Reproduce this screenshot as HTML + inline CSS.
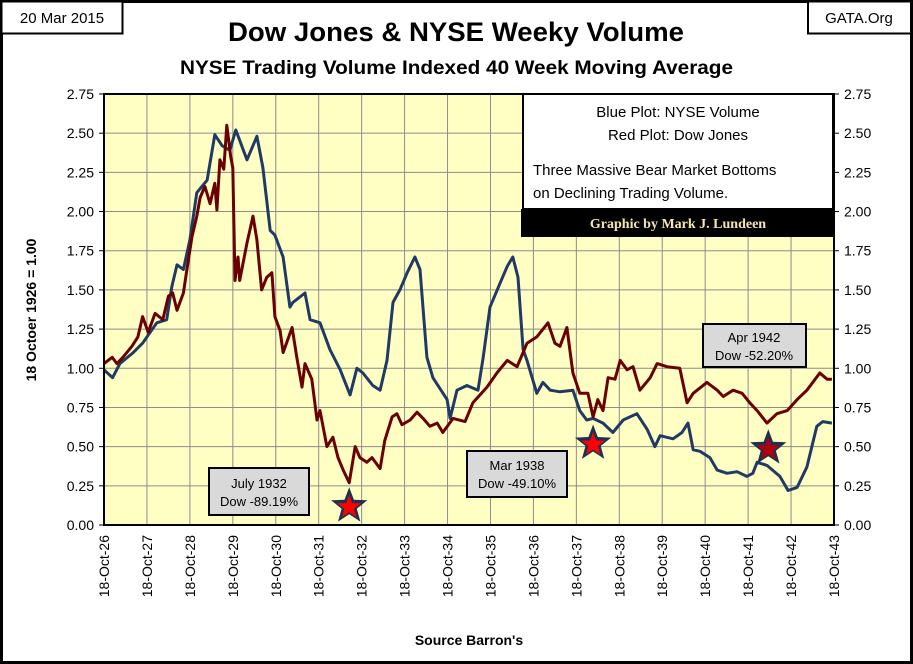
<!DOCTYPE html>
<html><head><meta charset="utf-8"><style>
html,body{margin:0;padding:0;background:#fff;}
svg{display:block;font-family:"Liberation Sans",sans-serif;}
</style></head><body>
<svg id="chart" width="913" height="664" viewBox="0 0 913 664" xmlns="http://www.w3.org/2000/svg">
<rect x="1.5" y="1.5" width="910" height="661" fill="#fff" stroke="#000" stroke-width="3"/>
<rect x="1.5" y="1.5" width="121" height="32" fill="#fff" stroke="#000" stroke-width="2"/>
<text x="62" y="23" font-size="15" text-anchor="middle">20 Mar 2015</text>
<rect x="808" y="1.5" width="103" height="32" fill="#fff" stroke="#000" stroke-width="2"/>
<text x="859" y="23" font-size="15" text-anchor="middle">GATA.Org</text>
<text x="228" y="41" font-size="27" font-weight="bold" textLength="456" lengthAdjust="spacingAndGlyphs">Dow Jones &amp; NYSE Weeky Volume</text>
<text x="180" y="74" font-size="19" font-weight="bold" textLength="553" lengthAdjust="spacingAndGlyphs">NYSE Trading Volume Indexed 40 Week Moving Average</text>
<rect x="104" y="94" width="730" height="431" fill="#ffffc4"/>
<g id="grid"></g>
<g id="series"></g>
<rect x="104" y="94" width="730" height="431" fill="none" stroke="#000" stroke-width="2"/>
<g id="axes"></g>
<text transform="translate(36,310) rotate(-90)" font-size="14" font-weight="bold" text-anchor="middle">18 Octoer 1926 = 1.00</text>
<text x="469" y="645" font-size="14" font-weight="bold" text-anchor="middle">Source Barron's</text>
<g>
<rect x="523" y="94" width="310" height="115" fill="#fff" stroke="#000" stroke-width="2"/>
<text x="678" y="117" font-size="15" text-anchor="middle">Blue Plot: NYSE Volume</text>
<text x="678" y="140" font-size="15" text-anchor="middle">Red Plot: Dow Jones</text>
<text x="533" y="175" font-size="15">Three Massive Bear Market Bottoms</text>
<text x="533" y="198" font-size="15">on Declining Trading Volume.</text>
</g>
<rect x="521" y="209" width="313" height="28" fill="#000"/>
<text x="678" y="228" font-size="14" font-weight="bold" fill="#f5e6b0" text-anchor="middle" font-family="Liberation Serif,serif">Graphic by Mark J. Lundeen</text>
<g>
<rect x="209" y="468" width="100" height="47" fill="#d9d9d9" stroke="#000" stroke-width="2"/>
<text x="259" y="488" font-size="13" text-anchor="middle">July 1932</text>
<text x="259" y="506" font-size="13" text-anchor="middle">Dow -89.19%</text>
</g>
<g>
<rect x="467" y="451" width="100" height="46" fill="#d9d9d9" stroke="#000" stroke-width="2"/>
<text x="517" y="470" font-size="13" text-anchor="middle">Mar 1938</text>
<text x="517" y="488" font-size="13" text-anchor="middle">Dow -49.10%</text>
</g>
<g>
<rect x="703" y="324" width="103" height="43" fill="#d9d9d9" stroke="#000" stroke-width="2"/>
<text x="754" y="342" font-size="13" text-anchor="middle">Apr 1942</text>
<text x="754" y="360" font-size="13" text-anchor="middle">Dow -52.20%</text>
</g>
<g id="stars"></g>
</svg>
<script>
const yTicks=[0,0.25,0.5,0.75,1,1.25,1.5,1.75,2,2.25,2.5,2.75];
const xTickLabels=["18-Oct-26","18-Oct-27","18-Oct-28","18-Oct-29","18-Oct-30","18-Oct-31","18-Oct-32","18-Oct-33","18-Oct-34","18-Oct-35","18-Oct-36","18-Oct-37","18-Oct-38","18-Oct-39","18-Oct-40","18-Oct-41","18-Oct-42","18-Oct-43"];
const volTimes=[0,0.2,0.37,0.68,0.9,1.23,1.46,1.58,1.7,1.85,2.0,2.16,2.4,2.58,2.75,2.93,3.07,3.33,3.56,3.7,3.87,3.98,4.17,4.33,4.4,4.68,4.8,5.03,5.26,5.5,5.73,5.89,6.03,6.26,6.43,6.59,6.73,6.89,7.06,7.24,7.36,7.52,7.66,7.99,8.06,8.22,8.45,8.71,8.83,8.99,9.22,9.39,9.52,9.64,9.76,9.85,10.08,10.22,10.39,10.62,10.92,11.08,11.24,11.39,11.62,11.85,12.09,12.41,12.65,12.83,12.95,13.25,13.46,13.6,13.72,13.88,14.11,14.28,14.51,14.74,14.97,15.11,15.21,15.44,15.74,15.93,16.14,16.37,16.6,16.74,16.95];
const volValues=[0.99,0.94,1.03,1.10,1.16,1.29,1.31,1.52,1.66,1.63,1.82,2.12,2.20,2.49,2.42,2.39,2.52,2.33,2.48,2.28,1.88,1.85,1.71,1.39,1.42,1.48,1.31,1.29,1.12,0.99,0.83,1.00,0.97,0.89,0.86,1.05,1.42,1.50,1.61,1.71,1.63,1.07,0.94,0.80,0.68,0.86,0.89,0.86,1.07,1.39,1.54,1.65,1.71,1.58,1.12,1.05,0.84,0.91,0.86,0.85,0.86,0.73,0.67,0.68,0.65,0.59,0.67,0.71,0.61,0.50,0.57,0.55,0.59,0.65,0.48,0.47,0.43,0.35,0.33,0.34,0.31,0.33,0.40,0.38,0.31,0.22,0.24,0.37,0.63,0.66,0.65];
const dowTimes=[0,0.19,0.3,0.44,0.65,0.79,0.9,1.03,1.19,1.37,1.5,1.6,1.7,1.85,1.93,2.05,2.16,2.24,2.35,2.47,2.58,2.63,2.7,2.79,2.86,2.95,3.0,3.05,3.12,3.16,3.33,3.47,3.56,3.67,3.79,3.91,3.98,4.1,4.17,4.38,4.49,4.61,4.68,4.84,4.96,5.03,5.19,5.33,5.45,5.57,5.71,5.85,5.96,6.12,6.24,6.43,6.54,6.71,6.82,6.94,7.13,7.29,7.43,7.59,7.76,7.89,8.13,8.41,8.59,8.92,9.15,9.39,9.62,9.85,10.08,10.34,10.5,10.62,10.78,10.92,11.08,11.27,11.39,11.5,11.62,11.74,11.9,12.02,12.18,12.32,12.48,12.72,12.88,13.11,13.41,13.58,13.72,14.04,14.28,14.42,14.65,14.86,15.04,15.21,15.44,15.67,15.91,16.14,16.37,16.67,16.84,16.95];
const dowValues=[1.03,1.07,1.03,1.07,1.14,1.20,1.33,1.23,1.35,1.31,1.46,1.48,1.37,1.48,1.63,1.84,1.97,2.09,2.16,2.05,2.18,2.01,2.33,2.27,2.55,2.35,2.28,1.56,1.71,1.56,1.80,1.97,1.82,1.50,1.58,1.61,1.33,1.24,1.10,1.26,1.07,0.88,1.03,0.93,0.67,0.73,0.50,0.56,0.43,0.35,0.27,0.50,0.43,0.40,0.43,0.36,0.54,0.69,0.71,0.64,0.67,0.72,0.68,0.63,0.65,0.59,0.68,0.66,0.78,0.88,0.97,1.05,1.01,1.16,1.20,1.29,1.16,1.14,1.26,0.97,0.84,0.84,0.69,0.80,0.73,0.94,0.93,1.05,0.99,1.01,0.86,0.94,1.03,1.01,1.00,0.78,0.84,0.91,0.86,0.82,0.86,0.84,0.78,0.73,0.65,0.71,0.73,0.80,0.86,0.97,0.93,0.93];
const starTimes=[5.71,11.39,15.47];
const starValues=[0.12,0.52,0.49];

const NS="http://www.w3.org/2000/svg";
const X0=104,X1=834,Y0=525,Y1=94,YMAX=2.75,TMAX=17;
const xs=t=>X0+(X1-X0)*t/TMAX;
const ys=v=>Y0-(Y0-Y1)*v/YMAX;
function mk(tag,attrs,parent){const e=document.createElementNS(NS,tag);for(const k in attrs)e.setAttribute(k,attrs[k]);parent.appendChild(e);return e;}
const grid=document.getElementById('grid'),axes=document.getElementById('axes'),series=document.getElementById('series'),stars=document.getElementById('stars');
yTicks.forEach(v=>{
  const l=mk('line',{x1:X0,x2:X1,y1:ys(v),y2:ys(v),stroke:'#8c8c8c','stroke-width':1},grid);
  
  
  const a=mk('text',{x:X0-10,y:ys(v)+5,'font-size':14,'text-anchor':'end'},axes);
  a.textContent=v.toFixed(2);
  
  
  const b=mk('text',{x:X1+10,y:ys(v)+5,'font-size':14},axes);
  b.textContent=v.toFixed(2);
  
  
  mk('line',{x1:X0-5,x2:X0,y1:ys(v),y2:ys(v),stroke:'#000'},axes);
  mk('line',{x1:X1,x2:X1+5,y1:ys(v),y2:ys(v),stroke:'#000'},axes);
});
xTickLabels.forEach((lab,i)=>{
  const x=xs(i);
  const l=mk('line',{x1:x,x2:x,y1:Y1,y2:Y0,stroke:'#8c8c8c','stroke-width':1},grid);
  
  
  const t=mk('text',{transform:`translate(${x+5},${Y0+10}) rotate(-90)`,'font-size':14,'text-anchor':'end'},axes);
  t.textContent=lab;
  
  
});
function line(times,vals,color,name){
  const d=times.map((t,i)=>(i?'L':'M')+xs(t).toFixed(1)+','+ys(vals[i]).toFixed(1)).join('');
  const p=mk('path',{d:d,fill:'none',stroke:color,'stroke-width':3,'stroke-linejoin':'round'},series);
  
  
}
line(volTimes,volValues,'#1f3a64','nyse-volume-line');
line(dowTimes,dowValues,'#6b0000','dow-jones-line');
function starPts(cx,cy,R,r){const p=[];for(let i=0;i<10;i++){const a=-Math.PI/2+i*Math.PI/5;const rr=i%2?r:R;p.push((cx+rr*Math.cos(a)).toFixed(1)+','+(cy+rr*Math.sin(a)).toFixed(1));}return p.join(' ');}
starTimes.forEach((t,i)=>{
  const cx=xs(t),cy=ys(starValues[i]);
  const s=mk('polygon',{points:starPts(cx,cy,19,8),fill:'#1f3050'},stars);
  
  
  mk('polygon',{points:starPts(cx,cy+1,12.5,5),fill:i==2?'#b00010':'#ff0000'},stars);
});
</script>
</body></html>
